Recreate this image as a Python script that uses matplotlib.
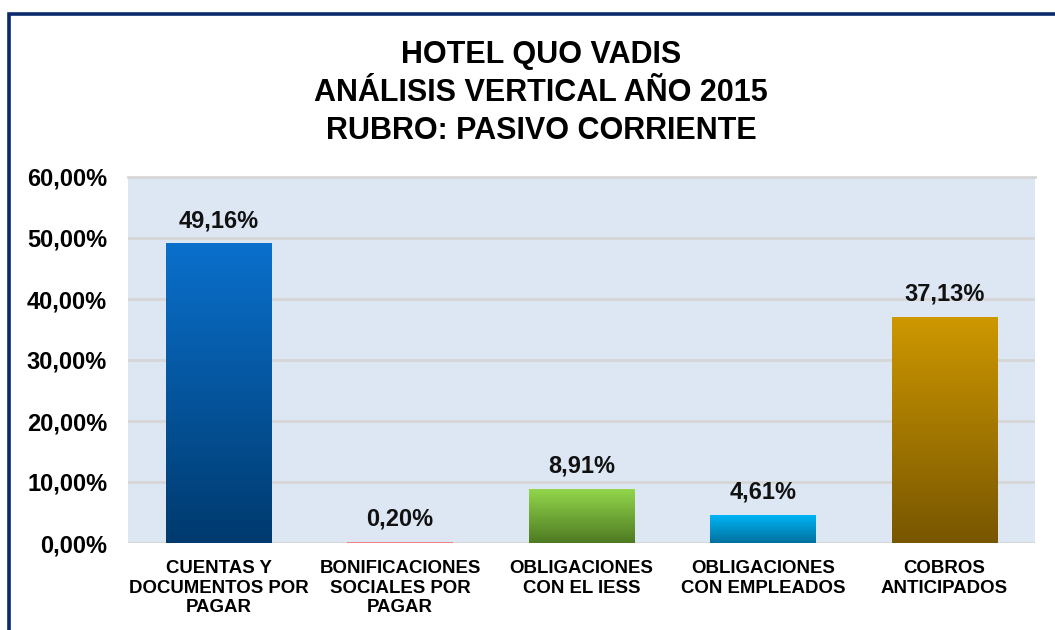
import numpy as np
import matplotlib
matplotlib.use("Agg")
import matplotlib.pyplot as plt
from matplotlib.colors import LinearSegmentedColormap
from matplotlib.patches import Rectangle
from matplotlib.ticker import FuncFormatter, MultipleLocator

plt.rcParams['font.family'] = ['Liberation Sans', 'DejaVu Sans']

categories = ["CUENTAS Y\nDOCUMENTOS POR\nPAGAR", "BONIFICACIONES\nSOCIALES POR\nPAGAR",
              "OBLIGACIONES\nCON EL IESS", "OBLIGACIONES\nCON EMPLEADOS", "COBROS\nANTICIPADOS"]
values = [49.16, 0.20, 8.91, 4.61, 37.13]
labels = ["49,16%", "0,20%", "8,91%", "4,61%", "37,13%"]
top_colors = ["#0A70CC", "#F08080", "#94D84C", "#00B8F8", "#CE9800"]
bottom_colors = ["#003A6E", "#F08080", "#4E7A22", "#00709E", "#785600"]
title = "HOTEL QUO VADIS\nANÁLISIS VERTICAL AÑO 2015\nRUBRO: PASIVO CORRIENTE"

W, H = 1055, 630
fig = plt.figure(figsize=(W / 100, H / 100), dpi=100)
fig.patch.set_facecolor("white")

# outer frame (left and top edges visible)
fig.add_artist(Rectangle((8.5 / W, -0.2), 1.5, (H - 14) / H + 0.2, transform=fig.transFigure,
                         fill=False, edgecolor="#0B2A6B", linewidth=2.6, clip_on=False))

ax_l, ax_r, ax_t, ax_b = 128, 1035, 177, 543
ax = fig.add_axes([ax_l / W, (H - ax_b) / H, (ax_r - ax_l) / W, (ax_b - ax_t) / H])
ax.set_facecolor("#DCE7F3")
for s in ax.spines.values():
    s.set_visible(False)

x = np.arange(len(values))
bw = 0.58
bars = ax.bar(x, values, width=bw, color=top_colors, zorder=3)
for i, b in enumerate(bars):
    if top_colors[i] != bottom_colors[i]:
        cmap = LinearSegmentedColormap.from_list("g%d" % i, [bottom_colors[i], top_colors[i]])
        grad = np.linspace(0, 1, 256).reshape(-1, 1)
        im = ax.imshow(grad, extent=[b.get_x(), b.get_x() + b.get_width(), 0, b.get_height()],
                       origin="lower", aspect="auto", cmap=cmap, zorder=4)
        im.set_clip_path(b)

for xi, v, lab in zip(x, values, labels):
    ax.annotate(lab, (xi, v), xytext=(0, 11.5), textcoords="offset points",
                ha="center", va="baseline", fontsize=17, fontweight="bold", color="#111111")

ax.set_xlim(-0.5, len(values) - 0.5)
ax.set_ylim(0, 60)
ax.yaxis.set_major_locator(MultipleLocator(10))
ax.yaxis.set_major_formatter(FuncFormatter(lambda v, p: ("%.2f%%" % v).replace(".", ",")))
ax.grid(axis="y", color="#D6D6D6", linewidth=2.0, zorder=1)
ax.set_axisbelow(True)
ax.tick_params(axis="y", length=0, pad=15, labelsize=17)
for t in ax.get_yticklabels():
    t.set_fontweight("bold")
ax.set_xticks(x)
ax.set_xticklabels(categories, fontsize=13.4, fontweight="bold", linespacing=1.22)
ax.tick_params(axis="x", length=0, pad=12)
ax.axhline(60, color="#D6D6D6", linewidth=2.0, zorder=1, clip_on=False)

fig.text(541 / W, 1 - 93 / H, title, ha="center", va="center", fontsize=22,
         fontweight="bold", linespacing=1.36, color="#000000")

fig.savefig("out.png", dpi=100)
